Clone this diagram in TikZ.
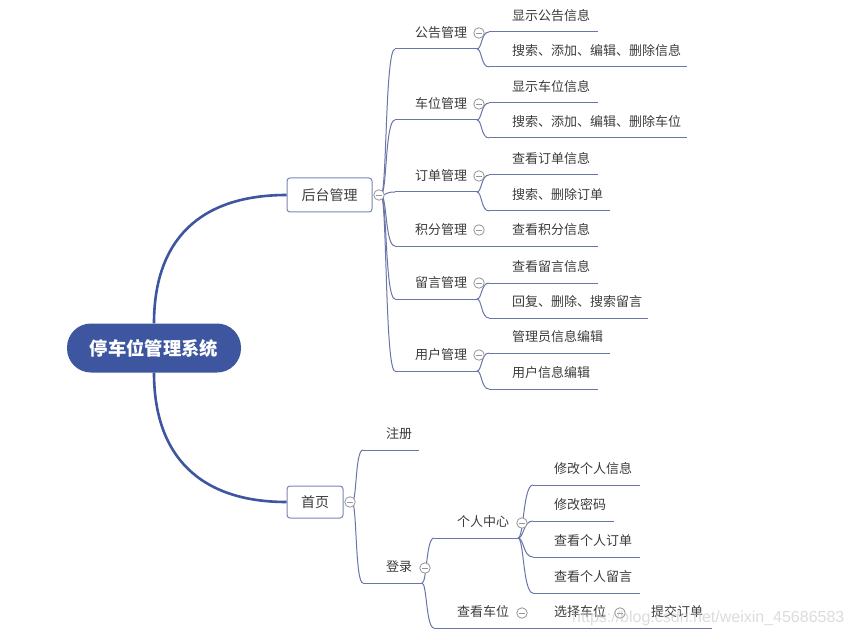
\documentclass[tikz,border=0pt]{standalone}
\usepackage{fontspec}
\setmainfont{Noto Sans CJK SC}
\newfontfamily\wmfont{Liberation Sans}
\definecolor{rootblue}{RGB}{62,86,160}
\definecolor{brc}{RGB}{104,118,168}
\definecolor{boxc}{RGB}{120,134,180}
\definecolor{txt}{RGB}{60,60,60}
\definecolor{circ}{RGB}{150,150,150}
\newcommand{\topic}[6]{%
  \coordinate (#1-a) at (#2,#4);
  \coordinate (#1-b) at (#5,#4);
  \node[lbl] (#1) at (#3,#4-16) {#6};
  \draw[br] (#1-a) -- (#1-b);
}
\newcommand{\lnk}[2]{\draw[br] (#1) .. controls +(5,0) and +(-8,0) .. (#2);}
\newcommand{\lnkw}[2]{\draw[br] (#1) .. controls +(6,0) and +(-10,0) .. (#2);}
\begin{document}
\begin{tikzpicture}[x=1pt,y=-1pt,
  lbl/.style={anchor=west,inner sep=0pt,font=\fontsize{13}{14}\selectfont,text=txt},
  br/.style={draw=brc,line width=1pt},
  mainline/.style={draw=rootblue,line width=2.6pt},
  rootbox/.style={rectangle,rounded corners=24pt,fill=rootblue,text=white,
    minimum width=174pt,minimum height=49pt,inner sep=0pt,
    font=\fontsize{18.3}{18}\selectfont\bfseries},
  lvbox/.style={rectangle,rounded corners=3pt,draw=boxc,fill=white,line width=1pt,
    inner sep=0pt,text=txt,font=\fontsize{14}{14}\selectfont},
  tog/.style={circle,draw=circ,fill=white,minimum size=10.5pt,inner sep=0pt,line width=0.8pt,
    path picture={\draw[circ,line width=0.8pt]
      ([xshift=-3.2pt]path picture bounding box.center) -- ([xshift=3.2pt]path picture bounding box.center);}},
  ]
\useasboundingbox[fill=white] (0,0) rectangle (853,636);

% ---------- main nodes ----------
\node[rootbox] (root) at (154,348) {停车位管理系统};
\node[lvbox,minimum width=85pt,minimum height=34pt] (ht) at (329.5,195) {后台管理};
\node[lvbox,minimum width=56pt,minimum height=32pt] (sy) at (315,502) {首页};

\draw[mainline] (root.north) .. controls +(0,-83) and +(-87,0) .. (ht.west);
\draw[mainline] (root.south) .. controls +(0,83) and +(-87,0) .. (sy.west);

% ---------- 后台管理 ----------
\coordinate (htJ) at (381,195);
\topic{gg}{395}{415}{49}{477}{公告管理}
\topic{cw}{395}{415}{120}{477}{车位管理}
\topic{dd}{395}{415}{192}{477}{订单管理}
\topic{jf}{395}{415}{246}{598}{积分管理}
\topic{ly}{395}{415}{299}{477}{留言管理}
\topic{yh}{395}{415}{371}{477}{用户管理}
\node[lbl] (jf1) at (512,230) {查看积分信息};
\foreach \t in {gg,cw,dd,jf,ly,yh} {\lnkw{htJ}{\t-a}}

\topic{gg1}{489}{512}{32}{598}{显示公告信息}
\topic{gg2}{489}{512}{67}{687}{搜索、添加、编辑、删除信息}
\topic{cw1}{489}{512}{103}{598}{显示车位信息}
\topic{cw2}{489}{512}{138}{687}{搜索、添加、编辑、删除车位}
\topic{dd1}{489}{512}{175}{598}{查看订单信息}
\topic{dd2}{489}{512}{211}{610}{搜索、删除订单}
\topic{ly1}{489}{512}{283}{598}{查看留言信息}
\topic{ly2}{489}{512}{318}{648}{回复、删除、搜索留言}
\topic{yh1}{489}{512}{353}{610}{管理员信息编辑}
\topic{yh2}{489}{512}{389}{598}{用户信息编辑}
\lnk{gg-b}{gg1-a}\lnk{gg-b}{gg2-a}
\lnk{cw-b}{cw1-a}\lnk{cw-b}{cw2-a}
\lnk{dd-b}{dd1-a}\lnk{dd-b}{dd2-a}
\lnk{ly-b}{ly1-a}\lnk{ly-b}{ly2-a}
\lnk{yh-b}{yh1-a}\lnk{yh-b}{yh2-a}

% ---------- 首页 ----------
\coordinate (syJ) at (352,502);
\topic{zc}{363}{386}{450}{419}{注册}
\topic{dl}{363}{386}{583}{422}{登录}
\lnk{syJ}{zc-a}\lnk{syJ}{dl-a}

\topic{gr}{434}{457}{538}{518}{个人中心}
\topic{ck}{434}{457}{628}{712}{查看车位}
\node[lbl] (xz) at (554,612) {选择车位};
\node[lbl] (tj) at (651,612) {提交订单};
\lnk{dl-b}{gr-a}\lnk{dl-b}{ck-a}

\topic{gr1}{533}{554}{485}{640}{修改个人信息}
\topic{gr2}{533}{554}{521}{614}{修改密码}
\topic{gr3}{533}{554}{557}{640}{查看个人订单}
\topic{gr4}{533}{554}{593}{640}{查看个人留言}
\foreach \t in {gr1,gr2,gr3,gr4} {\lnkw{gr-b}{\t-a}}

% ---------- toggles ----------
\node[tog] (t-ht) at (379,195) {};
\node[tog] (t-sy) at (350,502) {};
\foreach \t/\y in {gg/33,cw/104,dd/176,jf/230,ly/283,yh/355} {\node[tog] (t-\t) at (479,\y) {};}
\node[tog] (t-dl) at (425,568) {};
\node[tog] (t-gr) at (522,523) {};
\node[tog] (t-ck) at (522,613) {};
\node[tog] (t-xz) at (620,613) {};

% ---------- watermark ----------
\node[anchor=west,inner sep=0pt,font=\wmfont\fontsize{16}{16}\selectfont,text=gray!45,opacity=0.6] (wm) at (572,618) {https://blog.csdn.net/weixin\_45686583};
\end{tikzpicture}
\end{document}
